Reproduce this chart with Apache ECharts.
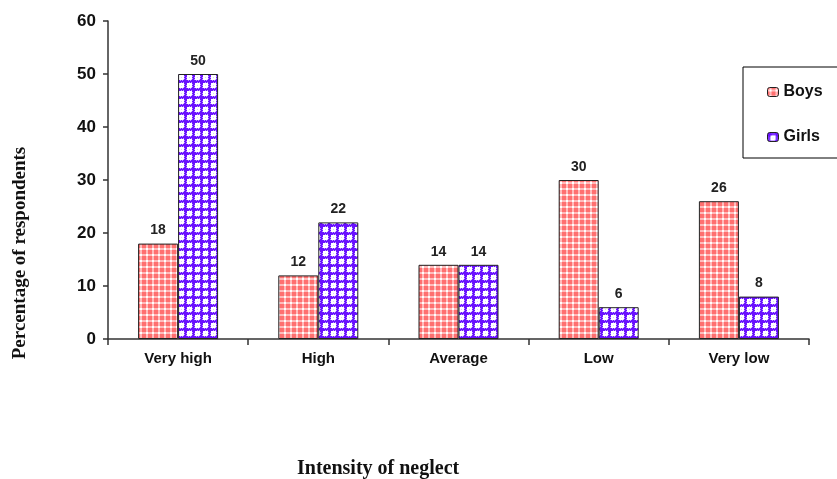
<!DOCTYPE html>
<html><head><meta charset="utf-8">
<script src="https://cdn.jsdelivr.net/npm/echarts@6/dist/echarts.min.js"></script>
<style>html,body{margin:0;padding:0;background:#fff}#c{width:837px;height:479px}</style>
</head><body><div id="c"></div>
<script>
var categories = ['Very high', 'High', 'Average', 'Low', 'Very low'];
var boys = [18, 12, 14, 30, 26];
var girls = [50, 22, 14, 6, 8];
var yTicks = [0, 10, 20, 30, 40, 50, 60];

function makePattern(kind) {
  var c = document.createElement('canvas');
  var g;
  if (kind === 'boys') {
    c.width = 6; c.height = 6;
    g = c.getContext('2d');
    g.fillStyle = '#ff7070'; g.fillRect(0, 0, 6, 6);
    g.fillStyle = '#ffbcbc';
    g.fillRect(0, 2, 6, 2); g.fillRect(2, 0, 2, 6);
    g.fillStyle = '#ffffff';
    g.fillRect(2, 2, 2, 2);
  } else {
    c.width = 8; c.height = 8;
    g = c.getContext('2d');
    g.fillStyle = '#ffffff'; g.fillRect(0, 0, 8, 8);
    g.fillStyle = '#6a10ff'; g.fillRect(0, 0, 8, 3); g.fillRect(0, 0, 3, 8);
    g.fillStyle = '#b898ff';
    g.fillRect(4, 0, 1, 1); g.fillRect(6, 0, 1, 1); g.fillRect(5, 2, 1, 1); g.fillRect(7, 2, 1, 1);
    g.fillRect(0, 4, 1, 1); g.fillRect(2, 5, 1, 1); g.fillRect(0, 6, 1, 1); g.fillRect(2, 7, 1, 1);
    g.fillStyle = '#dcd0ff';
    g.fillRect(5, 5, 1, 1); g.fillRect(7, 7, 1, 1);
  }
  return { image: c, repeat: 'repeat' };
}

var chart = echarts.init(document.getElementById('c'));
var labelStyle = { show: true, position: 'top', fontFamily: 'Arial, Liberation Sans', fontWeight: 'bold', fontSize: 14, color: '#222', distance: 6 };
chart.setOption({
  animation: false,
  grid: { left: 108, right: 28, top: 21, bottom: 140 },
  legend: {
    orient: 'vertical', left: 743, top: 67,
    padding: [17, 60, 13, 24], itemGap: 29,
    itemWidth: 11, itemHeight: 9,
    itemStyle: { borderColor: '#222', borderWidth: 1 },
    borderColor: '#000', borderWidth: 1,
    textStyle: { fontFamily: 'Arial, Liberation Sans', fontWeight: 'bold', fontSize: 16, color: '#111', lineHeight: 16 },
    data: ['Boys', 'Girls']
  },
  xAxis: {
    type: 'category', data: categories,
    axisLine: { lineStyle: { color: '#333', width: 1.5 } },
    axisTick: { show: true, length: 6, lineStyle: { color: '#333', width: 1.5 } },
    axisLabel: { fontFamily: 'Arial, Liberation Sans', fontWeight: 'bold', fontSize: 15, color: '#111', margin: 12 }
  },
  yAxis: {
    type: 'value', min: yTicks[0], max: yTicks[yTicks.length - 1], interval: 10,
    axisLine: { show: true, lineStyle: { color: '#333', width: 1.5 } },
    axisTick: { show: true, length: 5, lineStyle: { color: '#333', width: 1.5 } },
    splitLine: { show: false },
    axisLabel: { fontFamily: 'Arial, Liberation Sans', fontWeight: 'bold', fontSize: 17, color: '#111', margin: 12 }
  },
  series: [
    { name: 'Boys', type: 'bar', data: boys, barWidth: 40, barGap: '0%',
      itemStyle: { color: makePattern('boys'), borderColor: '#222', borderWidth: 1 }, label: labelStyle },
    { name: 'Girls', type: 'bar', data: girls, barWidth: 40,
      itemStyle: { color: makePattern('girls'), borderColor: '#222', borderWidth: 1 }, label: labelStyle }
  ],
  graphic: [
    { type: 'text', left: 297, top: 459, style: { text: 'Intensity of neglect', font: 'bold 20px "Liberation Serif", "Times New Roman", serif', fill: '#111' } },
    { type: 'text', x: 20, y: 253, rotation: Math.PI / 2, style: { text: 'Percentage of respondents', font: 'bold 19px "Liberation Serif", "Times New Roman", serif', fill: '#111', align: 'center', verticalAlign: 'middle' } }
  ]
});
</script></body></html>
